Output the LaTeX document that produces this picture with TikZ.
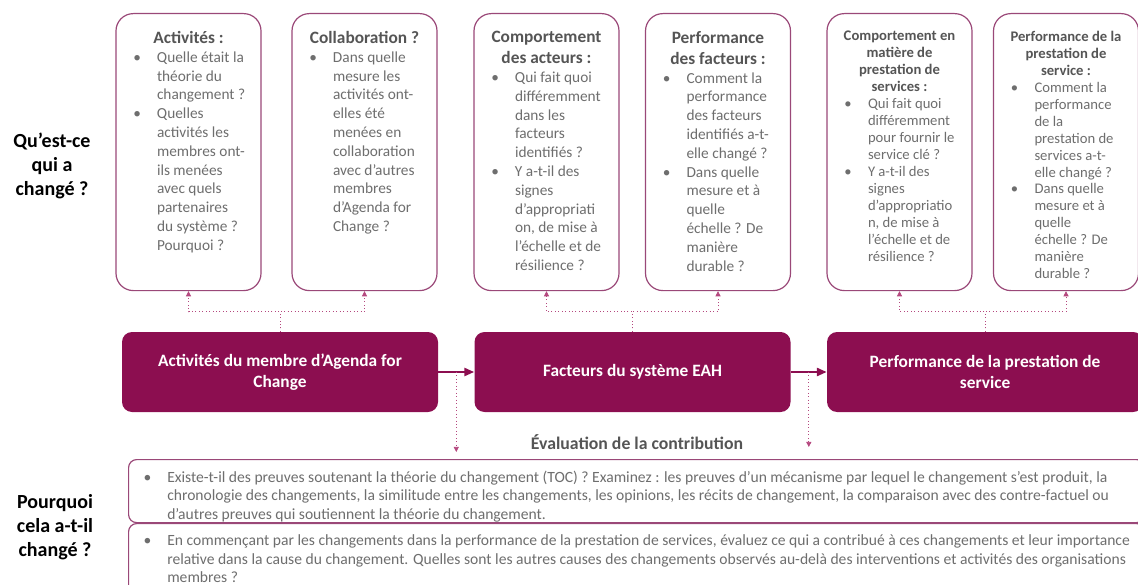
\documentclass[tikz,border=0pt]{standalone}
\usepackage{fontspec}
\setmainfont{Carlito}
\usepackage{xcolor}
\usepackage{tikz}
\usetikzlibrary{arrows.meta,positioning,calc}
\definecolor{plum}{HTML}{8C0E50}
\definecolor{plumline}{HTML}{9A4878}
\definecolor{plumdot}{HTML}{B5487F}
\definecolor{headgray}{HTML}{555555}
\definecolor{bodygray}{HTML}{6E6E6E}

\newcommand{\headfont}{\fontsize{13}{15.75}\selectfont\bfseries}
\newcommand{\bodyfont}{\fontsize{11.5}{14.1}\selectfont}
\newcommand{\smallhead}{\fontsize{11}{12.7}\selectfont\bfseries}
\newcommand{\smallbody}{\fontsize{11}{12.7}\selectfont}
\newcommand{\evalfont}{\fontsize{11.7}{13.8}\selectfont}

% centred card title
\newcommand{\qhead}[1]{{\centering\color{headgray}#1\par}}
% bullet point, text hangs under the first line
\newcommand{\qitem}[2][13pt]{{\leftskip=#1\rightskip=0pt plus 1fil\parfillskip=0pt plus 1fil%
  \hangindent=17.75pt\hangafter=1\noindent\makebox[17.75pt][l]{\textbullet}#2\par}}
% fixed size text area of a question card
\newcommand{\cardtext}[1]{\parbox[t][181.25pt][t]{108.75pt}{#1}}

\tikzset{
  card/.style={draw=plumline, line width=0.9pt, rounded corners=13pt, fill=white, inner xsep=0pt, inner ysep=13.25pt, anchor=north, text=bodygray},
  stage/.style={fill=plum, rounded corners=7.5pt, minimum width=237pt, minimum height=60pt, align=center, text=white, font=\fontsize{13}{15.75}\selectfont\bfseries},
  evalbox/.style={draw=plumline, line width=0.9pt, rounded corners=6pt, fill=white, inner xsep=0pt, inner ysep=8.5pt, anchor=north west, text=bodygray},
  askq/.style={align=center, font=\fontsize{15}{18}\selectfont\bfseries},
  flow/.style={-{Triangle[length=7.5pt, width=6pt]}, line width=2.2pt, draw=plum},
  dotarrow/.style={-{Triangle[length=3.8pt, width=3.8pt]}, dotted, line width=0.6pt, draw=plumdot}
}

\begin{document}
\begin{tikzpicture}[x=0.75pt, y=-0.75pt]
  \useasboundingbox (0,0) rectangle (1138,585);

  % row labels
  \node[askq] (what) at (52,166) {Qu’est-ce\\qui a\\changé ?};
  \node[askq] (why) at (55,527) {Pourquoi\\cela a-t-il\\changé ?};

  % question cards
  \node[card] (act) at (188.5,13) {\cardtext{\bodyfont
    \qhead{\headfont Activités :}
    \qitem{Quelle était la\\théorie du\\changement ?}
    \qitem{Quelles\\activités les\\membres ont-\\ils menées\\avec quels\\partenaires\\du système ?\\Pourquoi ?}}};
  \node[card] (collab) at (364.5,13) {\cardtext{\bodyfont
    \qhead{\headfont Collaboration ?}
    \qitem{Dans quelle\\mesure les\\activités ont-\\elles été\\menées en\\collaboration\\avec d’autres\\membres\\d’Agenda for\\Change ?}}};
  \node[card] (actors) at (546.5,13) {\cardtext{\bodyfont
    \qhead{\headfont Comportement\\des acteurs :}
    \qitem{Qui fait quoi\\différemment\\dans les\\facteurs\\identifiés ?}
    \qitem{Y a-t-il des\\signes\\d’appropriati\\on, de mise à\\l’échelle et de\\résilience ?}}};
  \node[card] (factperf) at (718,13) {\cardtext{\bodyfont
    \qhead{\headfont Performance\\des facteurs :}
    \qitem{Comment la\\performance\\des facteurs\\identifiés a-t-\\elle changé ?}
    \qitem{Dans quelle\\mesure et à\\quelle\\échelle ? De\\manière\\durable ?}}};
  \node[card] (servbeh) at (899.5,13) {\cardtext{\smallbody
    \qhead{\smallhead Comportement en\\matière de\\prestation de\\services :}
    \qitem{Qui fait quoi\\différemment\\pour fournir le\\service clé ?}
    \qitem{Y a-t-il des\\signes\\d’appropriatio\\n, de mise à\\l’échelle et de\\résilience ?}}};
  \node[card] (servperf) at (1066,13) {\cardtext{\smallbody
    \qhead{\smallhead Performance de la\\prestation de\\service :}
    \qitem{Comment la\\performance\\de la\\prestation de\\services a-t-\\elle changé ?}
    \qitem{Dans quelle\\mesure et à\\quelle\\échelle ? De\\manière\\durable ?}}};

  % results chain
  \node[stage] (memb) at (280,372) {Activités du membre d’Agenda for\\Change};
  \node[stage, right=27pt of memb] (fact) {Facteurs du système EAH};
  \node[stage, right=27pt of fact] (perf) {Performance de la prestation de\\service};

  \draw[flow] (memb) -- (fact);
  \draw[flow] (fact) -- (perf);

  % what changed at each stage
  \draw[dotarrow] (memb.north) -- ++(0,-20) -| (act.south);
  \draw[dotarrow] (memb.north) -- ++(0,-20) -| (collab.south);
  \draw[dotarrow] (fact.north) -- ++(0,-20) -| (actors.south);
  \draw[dotarrow] (fact.north) -- ++(0,-20) -| (factperf.south);
  \draw[dotarrow] (perf.north) -- ++(0,-20) -| (servbeh.south);
  \draw[dotarrow] (perf.north) -- ++(0,-20) -| (servperf.south);

  % contribution analysis
  \node[font=\fontsize{13.3}{16}\selectfont\bfseries, text=headgray] (contrib) at (637,442) {Évaluation de la contribution};
  \draw[dotarrow] ($(memb.east)!0.5!(fact.west)$) -- ++(0,80);
  \draw[dotarrow] ($(fact.east)!0.5!(perf.west)$) -- ++(0,75);

  \node[evalbox] (toc) at (128,459) {\parbox[t][30.25pt][t]{762pt}{\evalfont
    \qitem[11.25pt]{Existe-t-il des preuves soutenant la théorie du changement (TOC) ? Examinez : les preuves d’un mécanisme par lequel le changement s’est produit, la\\chronologie des changements, la similitude entre les changements, les opinions, les récits de changement, la comparaison avec des contre-factuel ou\\d’autres preuves qui soutiennent la théorie du changement.}}};
  \node[evalbox] (causes) at (128,523) {\parbox[t][35.5pt][t]{762pt}{\evalfont
    \qitem[11.25pt]{En commençant par les changements dans la performance de la prestation de services, évaluez ce qui a contribué à ces changements et leur importance\\relative dans la cause du changement. Quelles sont les autres causes des changements observés au-delà des interventions et activités des organisations\\membres ?}}};
\end{tikzpicture}
\end{document}
